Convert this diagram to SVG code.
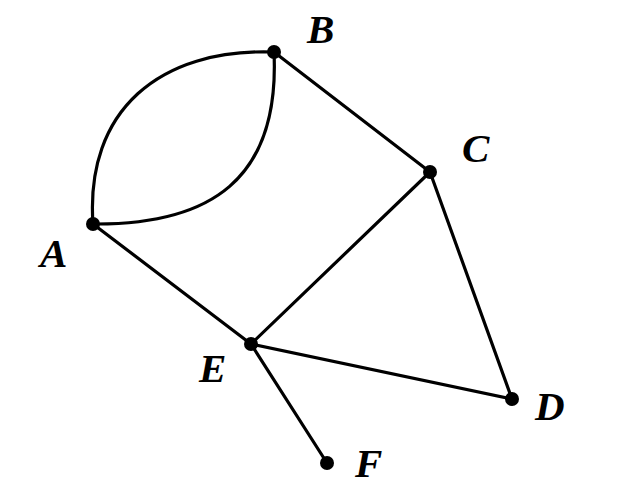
<svg xmlns="http://www.w3.org/2000/svg" width="639" height="492" viewBox="0 0 639 492">
<style>
.e{fill:none;stroke:#000;stroke-width:3.2;stroke-linecap:round}
.n{fill:#000}
.t{font-family:"Liberation Serif",serif;font-style:italic;font-weight:bold;font-size:41px;fill:#000}
</style>
<rect width="639" height="492" fill="#fff"/>
<g id="edges">
<path class="e" d="M93,224 C85,110 160,48 274,52"/>
<path class="e" d="M93,224 C210,225 280,180 274,52"/>
<line class="e" x1="274" y1="52" x2="430" y2="172"/>
<line class="e" x1="93" y1="224" x2="251" y2="344"/>
<line class="e" x1="430" y1="172" x2="251" y2="344"/>
<line class="e" x1="430" y1="172" x2="512" y2="399"/>
<line class="e" x1="251" y1="344" x2="512" y2="399"/>
<line class="e" x1="251" y1="344" x2="327" y2="463"/>
</g>
<g id="A"><circle class="n" cx="93" cy="224" r="7"/><text class="t" x="40" y="267">A</text></g>
<g id="B"><circle class="n" cx="274" cy="52" r="7"/><text class="t" x="307" y="43">B</text></g>
<g id="C"><circle class="n" cx="430" cy="172" r="7"/><text class="t" x="462" y="162">C</text></g>
<g id="D"><circle class="n" cx="512" cy="399" r="7"/><text class="t" x="535" y="420">D</text></g>
<g id="E"><circle class="n" cx="251" cy="344" r="7"/><text class="t" x="199" y="382">E</text></g>
<g id="F"><circle class="n" cx="327" cy="463" r="7"/><text class="t" x="355" y="477">F</text></g>
</svg>
